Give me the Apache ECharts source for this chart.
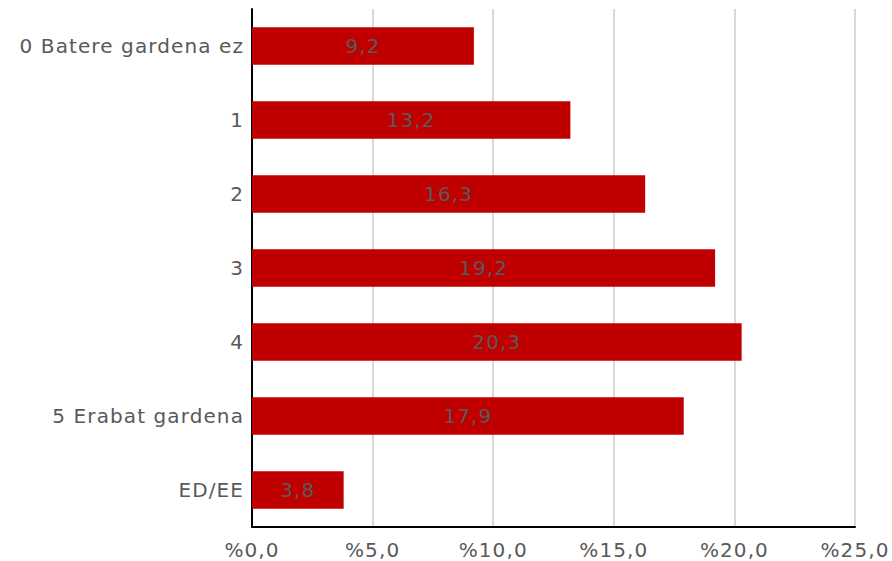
<!DOCTYPE html>
<html>
<head>
<meta charset="utf-8">
<script src="https://cdn.jsdelivr.net/npm/echarts@6/dist/echarts.min.js"></script>
<style>
  html, body { margin: 0; padding: 0; background: #fff; }
  #chart { width: 892px; height: 561px; }
  #chart text { letter-spacing: 1.1px; }
</style>
</head>
<body>
<div id="chart"></div>
<script>
// kategoriak (goitik behera)
var categories = ['0 Batere gardena ez', '1', '2', '3', '4', '5 Erabat gardena', 'ED/EE'];
var values = [9.2, 13.2, 16.3, 19.2, 20.3, 17.9, 3.8];
var xTicks = [0, 5, 10, 15, 20, 25];

var FONT = '"DejaVu Sans", sans-serif';

var fmt = function (v, d) {
    return v.toFixed(d).replace('.', ',');
};

var option = {
    animation: false,
    textStyle: { fontFamily: FONT },
    grid: {
        left: 252,
        right: 37,
        top: 9,
        bottom: 34,
        containLabel: false
    },
    xAxis: {
        type: 'value',
        min: xTicks[0],
        max: xTicks[xTicks.length - 1],
        interval: 5,
        axisLine: { show: true, lineStyle: { color: '#000', width: 2 } },
        axisTick: { show: false },
        axisLabel: {
            color: '#595959',
            fontFamily: FONT,
            fontSize: 20,
            margin: 13,
            formatter: function (v) { return '%' + fmt(v, 1); }
        },
        splitLine: { show: true, lineStyle: { color: '#d9d9d9', width: 2 } }
    },
    yAxis: {
        type: 'category',
        inverse: true,
        data: categories,
        axisLine: { show: true, lineStyle: { color: '#000', width: 2 } },
        axisTick: { show: false },
        axisLabel: {
            color: '#595959',
            fontFamily: FONT,
            fontSize: 20,
            margin: 8
        }
    },
    series: [{
        type: 'bar',
        data: values,
        barWidth: '51%',
        itemStyle: { color: '#c00000' },
        label: {
            show: true,
            position: 'inside',
            color: '#595959',
            fontFamily: FONT,
            fontSize: 20,
            formatter: function (p) { return fmt(p.value, 1); }
        }
    }]
};

var myChart = echarts.init(document.getElementById('chart'), null, { renderer: 'svg' });
myChart.setOption(option);
</script>
</body>
</html>
